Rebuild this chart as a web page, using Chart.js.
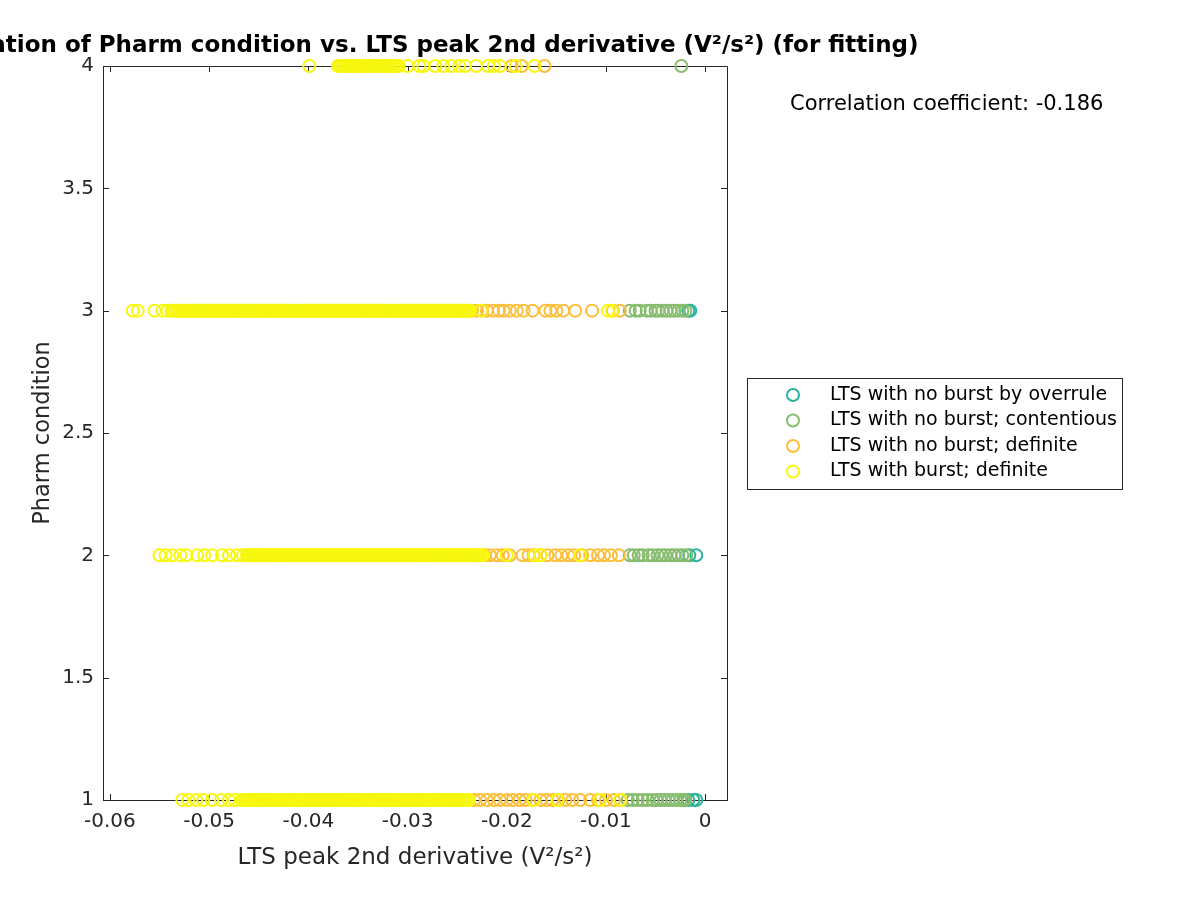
<!DOCTYPE html>
<html>
<head>
<meta charset="utf-8">
<script src="https://cdn.jsdelivr.net/npm/chart.js@4.4.1/dist/chart.umd.min.js"></script>
<style>
  body { margin: 0; background: #fff; }
  #wrap { width: 1200px; height: 900px; }
</style>
</head>
<body>
<div id="wrap"><canvas id="corrChart" width="1200" height="900"></canvas></div>
<script>
// Pharm condition levels and tick labels
const pharmLevels = [1, 2, 3, 4];
const xTicks = [-0.06, -0.05, -0.04, -0.03, -0.02, -0.01, 0];
const xTickLabels = ['-0.06', '-0.05', '-0.04', '-0.03', '-0.02', '-0.01', '0'];
const yTicks = [1, 1.5, 2, 2.5, 3, 3.5, 4];
const yTickLabels = ['1', '1.5', '2', '2.5', '3', '3.5', '4'];

const seriesNames = ['LTS with no burst by overrule', 'LTS with no burst; contentious',
  'LTS with no burst; definite', 'LTS with burst; definite'];
const seriesColors = ['#2bb39f', '#88bd6f', '#fdbf3a', '#f7f70f'];
const corrCoef = '-0.186';

// LTS peak 2nd derivative values (V^2/s^2), one list per class per pharm condition
const overrule1 = [-0.0017, -0.0012, -0.0009];
const overrule2 = [-0.0016, -0.0009];
const overrule3 = [-0.0017, -0.0015];
const overrule4 = [];

const contentious1 = [-0.0078, -0.0073, -0.0068, -0.0063, -0.0058, -0.0053, -0.0049, -0.0045,
  -0.0041, -0.0037, -0.0033, -0.0029, -0.0025, -0.0022, -0.0020];
const contentious2 = [-0.0076, -0.0072, -0.0067, -0.0063, -0.0057, -0.0053, -0.0048, -0.0044,
  -0.0040, -0.0035, -0.0031, -0.0027, -0.0023, -0.0019];
const contentious3 = [-0.0076, -0.0070, -0.0066, -0.0059, -0.0055, -0.0050, -0.0047, -0.0043,
  -0.0039, -0.0035, -0.0031, -0.0027, -0.0023, -0.0020];
const contentious4 = [-0.0024];

const noBurst1 = [-0.0233, -0.0227, -0.0220, -0.0213, -0.0207, -0.0200, -0.0194, -0.0187, -0.0181,
  -0.0174, -0.0166, -0.0160, -0.0154, -0.0148, -0.0141, -0.0134, -0.0126, -0.0116, -0.0108,
  -0.0100, -0.0092, -0.0085];
const noBurst2 = [-0.0222, -0.0217, -0.0210, -0.0204, -0.0197, -0.0184, -0.0178, -0.0173, -0.0166,
  -0.0159, -0.0151, -0.0145, -0.0138, -0.0132, -0.0124, -0.0116, -0.0108, -0.0102, -0.0095, -0.0087];
const noBurst3 = [-0.0235, -0.0230, -0.0225, -0.0220, -0.0214, -0.0208, -0.0203, -0.0197, -0.0190,
  -0.0183, -0.0174, -0.0161, -0.0156, -0.0150, -0.0143, -0.0131, -0.0114, -0.0093, -0.0086];
const noBurst4 = [-0.0195, -0.0185, -0.0162];

const burst1 = [-0.0527, -0.0521, -0.0513, -0.0506, -0.0497, -0.0488, -0.0480, -0.0474,
  -0.0467, -0.0466, -0.0464, -0.0463, -0.0462, -0.0460, -0.0459, -0.0457, -0.0456, -0.0455,
  -0.0453, -0.0451, -0.0450, -0.0449, -0.0447, -0.0446, -0.0444, -0.0443, -0.0442, -0.0440,
  -0.0438, -0.0437, -0.0436, -0.0434, -0.0433, -0.0431, -0.0430, -0.0429, -0.0427, -0.0426,
  -0.0424, -0.0423, -0.0421, -0.0420, -0.0419, -0.0417, -0.0416, -0.0414, -0.0413, -0.0411,
  -0.0410, -0.0409, -0.0407, -0.0405, -0.0404, -0.0403, -0.0401, -0.0400, -0.0398, -0.0397,
  -0.0396, -0.0394, -0.0393, -0.0391, -0.0390, -0.0388, -0.0387, -0.0386, -0.0384, -0.0383,
  -0.0381, -0.0380, -0.0378, -0.0377, -0.0376, -0.0374, -0.0372, -0.0371, -0.0370, -0.0368,
  -0.0367, -0.0365, -0.0364, -0.0363, -0.0361, -0.0360, -0.0358, -0.0357, -0.0355, -0.0354,
  -0.0353, -0.0351, -0.0350, -0.0348, -0.0347, -0.0345, -0.0344, -0.0343, -0.0341, -0.0339,
  -0.0338, -0.0337, -0.0335, -0.0334, -0.0332, -0.0331, -0.0330, -0.0328, -0.0327, -0.0325,
  -0.0324, -0.0322, -0.0321, -0.0320, -0.0318, -0.0317, -0.0315, -0.0314, -0.0312, -0.0311,
  -0.0310, -0.0308, -0.0306, -0.0305, -0.0304, -0.0302, -0.0301, -0.0299, -0.0298, -0.0297,
  -0.0295, -0.0294, -0.0292, -0.0291, -0.0289, -0.0288, -0.0287, -0.0285, -0.0284, -0.0282,
  -0.0281, -0.0279, -0.0278, -0.0277, -0.0275, -0.0273, -0.0272, -0.0271, -0.0269, -0.0268,
  -0.0266, -0.0265, -0.0264, -0.0262, -0.0261, -0.0259, -0.0258, -0.0256, -0.0255, -0.0254,
  -0.0252, -0.0251, -0.0249, -0.0248, -0.0246, -0.0245, -0.0244, -0.0242, -0.0241, -0.0239,
  -0.0238,
  -0.0173, -0.0149, -0.0106, -0.0086];
const burst2 = [-0.0550, -0.0544, -0.0537, -0.0529, -0.0523, -0.0512, -0.0505, -0.0497, -0.0487,
  -0.0480, -0.0472, -0.0466,
  -0.0462, -0.0461, -0.0459, -0.0458, -0.0456, -0.0455, -0.0454, -0.0452, -0.0451, -0.0449,
  -0.0448, -0.0446, -0.0445, -0.0444, -0.0442, -0.0441, -0.0439, -0.0438, -0.0437, -0.0435,
  -0.0433, -0.0432, -0.0431, -0.0429, -0.0428, -0.0426, -0.0425, -0.0424, -0.0422, -0.0421,
  -0.0419, -0.0418, -0.0416, -0.0415, -0.0414, -0.0412, -0.0411, -0.0409, -0.0408, -0.0406,
  -0.0405, -0.0404, -0.0402, -0.0400, -0.0399, -0.0398, -0.0396, -0.0395, -0.0393, -0.0392,
  -0.0391, -0.0389, -0.0388, -0.0386, -0.0385, -0.0383, -0.0382, -0.0381, -0.0379, -0.0378,
  -0.0376, -0.0375, -0.0373, -0.0372, -0.0371, -0.0369, -0.0367, -0.0366, -0.0365, -0.0363,
  -0.0362, -0.0360, -0.0359, -0.0358, -0.0356, -0.0355, -0.0353, -0.0352, -0.0350, -0.0349,
  -0.0348, -0.0346, -0.0345, -0.0343, -0.0342, -0.0340, -0.0339, -0.0338, -0.0336, -0.0334,
  -0.0333, -0.0332, -0.0330, -0.0329, -0.0327, -0.0326, -0.0325, -0.0323, -0.0322, -0.0320,
  -0.0319, -0.0317, -0.0316, -0.0315, -0.0313, -0.0312, -0.0310, -0.0309, -0.0307, -0.0306,
  -0.0305, -0.0303, -0.0301, -0.0300, -0.0299, -0.0297, -0.0296, -0.0294, -0.0293, -0.0292,
  -0.0290, -0.0289, -0.0287, -0.0286, -0.0284, -0.0283, -0.0282, -0.0280, -0.0279, -0.0277,
  -0.0276, -0.0274, -0.0273, -0.0272, -0.0270, -0.0268, -0.0267, -0.0266, -0.0264, -0.0263,
  -0.0261, -0.0260, -0.0259, -0.0257, -0.0256, -0.0254, -0.0253, -0.0251, -0.0250, -0.0249,
  -0.0247, -0.0246, -0.0244, -0.0243, -0.0241, -0.0240, -0.0239, -0.0237, -0.0235, -0.0234,
  -0.0233, -0.0231, -0.0230, -0.0228, -0.0227, -0.0226, -0.0224,
  -0.0200, -0.0172, -0.0166, -0.0126];
const burst3 = [-0.0577, -0.0572, -0.0555, -0.0547, -0.0542,
  -0.0538, -0.0537, -0.0535, -0.0534, -0.0532, -0.0531, -0.0530, -0.0528, -0.0527, -0.0525,
  -0.0524, -0.0522, -0.0521, -0.0520, -0.0518, -0.0517, -0.0515, -0.0514, -0.0512, -0.0511,
  -0.0510, -0.0508, -0.0506, -0.0505, -0.0504, -0.0502, -0.0501, -0.0499, -0.0498, -0.0497,
  -0.0495, -0.0494, -0.0492, -0.0491, -0.0489, -0.0488, -0.0487, -0.0485, -0.0484, -0.0482,
  -0.0481, -0.0479, -0.0478, -0.0477, -0.0475, -0.0473, -0.0472, -0.0471, -0.0469, -0.0468,
  -0.0466, -0.0465, -0.0464, -0.0462, -0.0461, -0.0459, -0.0458, -0.0456, -0.0455, -0.0454,
  -0.0452, -0.0451, -0.0449, -0.0448, -0.0446, -0.0445, -0.0444, -0.0442, -0.0440, -0.0439,
  -0.0438, -0.0436, -0.0435, -0.0433, -0.0432, -0.0431, -0.0429, -0.0428, -0.0426, -0.0425,
  -0.0423, -0.0422, -0.0421, -0.0419, -0.0418, -0.0416, -0.0415, -0.0413, -0.0412, -0.0411,
  -0.0409, -0.0407, -0.0406, -0.0405, -0.0403, -0.0402, -0.0400, -0.0399, -0.0398, -0.0396,
  -0.0395, -0.0393, -0.0392, -0.0390, -0.0389, -0.0388, -0.0386, -0.0385, -0.0383, -0.0382,
  -0.0380, -0.0379, -0.0378, -0.0376, -0.0374, -0.0373, -0.0372, -0.0370, -0.0369, -0.0367,
  -0.0366, -0.0365, -0.0363, -0.0362, -0.0360, -0.0359, -0.0357, -0.0356, -0.0355, -0.0353,
  -0.0352, -0.0350, -0.0349, -0.0347, -0.0346, -0.0345, -0.0343, -0.0341, -0.0340, -0.0339,
  -0.0337, -0.0336, -0.0334, -0.0333, -0.0332, -0.0330, -0.0329, -0.0327, -0.0326, -0.0324,
  -0.0323, -0.0322, -0.0320, -0.0319, -0.0317, -0.0316, -0.0314, -0.0313, -0.0312, -0.0310,
  -0.0308, -0.0307, -0.0306, -0.0304, -0.0303, -0.0301, -0.0300, -0.0299, -0.0297, -0.0296,
  -0.0294, -0.0293, -0.0291, -0.0290, -0.0289, -0.0287, -0.0286, -0.0284, -0.0283, -0.0281,
  -0.0280, -0.0279, -0.0277, -0.0275, -0.0274, -0.0273, -0.0271, -0.0270, -0.0268, -0.0267,
  -0.0266, -0.0264, -0.0263, -0.0261, -0.0260, -0.0258, -0.0257, -0.0256, -0.0254, -0.0253,
  -0.0251, -0.0250, -0.0248, -0.0247, -0.0246, -0.0244, -0.0242, -0.0241, -0.0240, -0.0238,
  -0.0237,
  -0.0226, -0.0098, -0.0094];
const burst4 = [-0.0399,
  -0.0370, -0.0368, -0.0367, -0.0365, -0.0363, -0.0362, -0.0360, -0.0358, -0.0357, -0.0355,
  -0.0353, -0.0352, -0.0350, -0.0348, -0.0347, -0.0345, -0.0343, -0.0342, -0.0340, -0.0338,
  -0.0337, -0.0335, -0.0333, -0.0332, -0.0330, -0.0328, -0.0327, -0.0325, -0.0323, -0.0322,
  -0.0320, -0.0318, -0.0317, -0.0315, -0.0313, -0.0312, -0.0310, -0.0309,
  -0.0300, -0.0288, -0.0284, -0.0272, -0.0264, -0.0256, -0.0248, -0.0242, -0.0231, -0.0219,
  -0.0213, -0.0207, -0.0191, -0.0172];

const FONT = '"DejaVu Sans", sans-serif';
const AXIS_COLOR = '#262626';

function toPoints(lists) {
  const pts = [];
  lists.forEach((xs, i) => xs.forEach(v => pts.push({ x: v, y: pharmLevels[i] })));
  return pts;
}

const seriesData = [
  toPoints([overrule1, overrule2, overrule3, overrule4]),
  toPoints([contentious1, contentious2, contentious3, contentious4]),
  toPoints([noBurst1, noBurst2, noBurst3, noBurst4]),
  toPoints([burst1, burst2, burst3, burst4])
];

// title, correlation text, legend box, box edges and inward ticks
const decorPlugin = {
  id: 'decor',
  beforeDatasetsDraw(chart) {
    const { ctx, chartArea: a, scales: { x, y } } = chart;
    ctx.save();
    ctx.strokeStyle = AXIS_COLOR;
    ctx.lineWidth = 1;
    ctx.beginPath();
    ctx.moveTo(a.left, a.top + 0.5);
    ctx.lineTo(a.right + 0.5, a.top + 0.5);
    ctx.lineTo(a.right + 0.5, a.bottom);
    xTicks.forEach(v => {
      const px = Math.round(x.getPixelForValue(v)) + 0.5;
      ctx.moveTo(px, a.bottom); ctx.lineTo(px, a.bottom - 6);
      ctx.moveTo(px, a.top); ctx.lineTo(px, a.top + 6);
    });
    yTicks.forEach(v => {
      const py = Math.round(y.getPixelForValue(v)) + 0.5;
      ctx.moveTo(a.left, py); ctx.lineTo(a.left + 6, py);
      ctx.moveTo(a.right, py); ctx.lineTo(a.right - 6, py);
    });
    ctx.stroke();
    ctx.restore();
  },
  afterDraw(chart) {
    const { ctx, chartArea: a } = chart;
    ctx.save();
    ctx.fillStyle = '#000';
    ctx.font = 'bold 23px ' + FONT;
    ctx.textAlign = 'center';
    ctx.textBaseline = 'middle';
    ctx.fillText('Correlation of Pharm condition vs. LTS peak 2nd derivative (V\u00B2/s\u00B2) (for fitting)',
      (a.left + a.right) / 2, 46);

    ctx.font = '21px ' + FONT;
    ctx.textAlign = 'left';
    ctx.fillText('Correlation coefficient: ' + corrCoef, 790, 105);

    // legend
    ctx.strokeStyle = AXIS_COLOR;
    ctx.lineWidth = 1;
    ctx.fillStyle = '#fff';
    ctx.fillRect(747.5, 378.5, 375, 111);
    ctx.strokeRect(747.5, 378.5, 375, 111);
    ctx.font = '19px ' + FONT;
    chart.data.datasets.forEach((ds, i) => {
      const cy = 395 + i * 25.5;
      ctx.beginPath();
      ctx.arc(793, cy, 6, 0, Math.PI * 2);
      ctx.strokeStyle = ds.borderColor;
      ctx.lineWidth = 2;
      ctx.stroke();
      ctx.fillStyle = '#000';
      ctx.fillText(ds.label, 830, cy);
    });
    ctx.restore();
  }
};

const ctx = document.getElementById('corrChart').getContext('2d');
const corrChart = new Chart(ctx, {
  type: 'scatter',
  data: {
    datasets: seriesNames.map((name, i) => ({
      label: name,
      data: seriesData[i],
      borderColor: seriesColors[i],
      backgroundColor: 'rgba(0,0,0,0)',
      pointStyle: 'circle',
      pointRadius: 6,
      pointBorderWidth: 2,
      order: 4 - i,
      clip: false
    }))
  },
  options: {
    responsive: false,
    animation: false,
    devicePixelRatio: 1,
    layout: { padding: { top: 66, right: 473, left: 0, bottom: 0 } },
    plugins: {
      legend: { display: false },
      title: { display: false },
      tooltip: { enabled: false }
    },
    scales: {
      x: {
        type: 'linear',
        position: 'bottom',
        min: -0.0607,
        max: 0.0022,
        grid: { display: false, drawTicks: false },
        border: { display: true, color: AXIS_COLOR },
        afterBuildTicks: s => { s.ticks = xTicks.map(v => ({ value: v })); },
        afterFit: s => { s.height = 100; },
        ticks: {
          color: AXIS_COLOR,
          font: { family: FONT, size: 20 },
          padding: 10,
          maxRotation: 0,
          callback: (v, i) => xTickLabels[i]
        },
        title: {
          display: true,
          text: 'LTS peak 2nd derivative (V\u00B2/s\u00B2)',
          color: AXIS_COLOR,
          font: { family: FONT, size: 23 },
          padding: { top: 0, bottom: 28 }
        }
      },
      y: {
        type: 'linear',
        position: 'left',
        min: 1,
        max: 4,
        grid: { display: false, drawTicks: false },
        border: { display: true, color: AXIS_COLOR },
        afterBuildTicks: s => { s.ticks = yTicks.map(v => ({ value: v })); },
        afterFit: s => { s.width = 103; },
        ticks: {
          color: AXIS_COLOR,
          font: { family: FONT, size: 20 },
          padding: 9,
          callback: (v, i) => yTickLabels[i]
        },
        title: {
          display: true,
          text: 'Pharm condition',
          color: AXIS_COLOR,
          font: { family: FONT, size: 22.5 },
          padding: { top: 30, bottom: 0 }
        }
      }
    }
  },
  plugins: [decorPlugin]
});
</script>
</body>
</html>
